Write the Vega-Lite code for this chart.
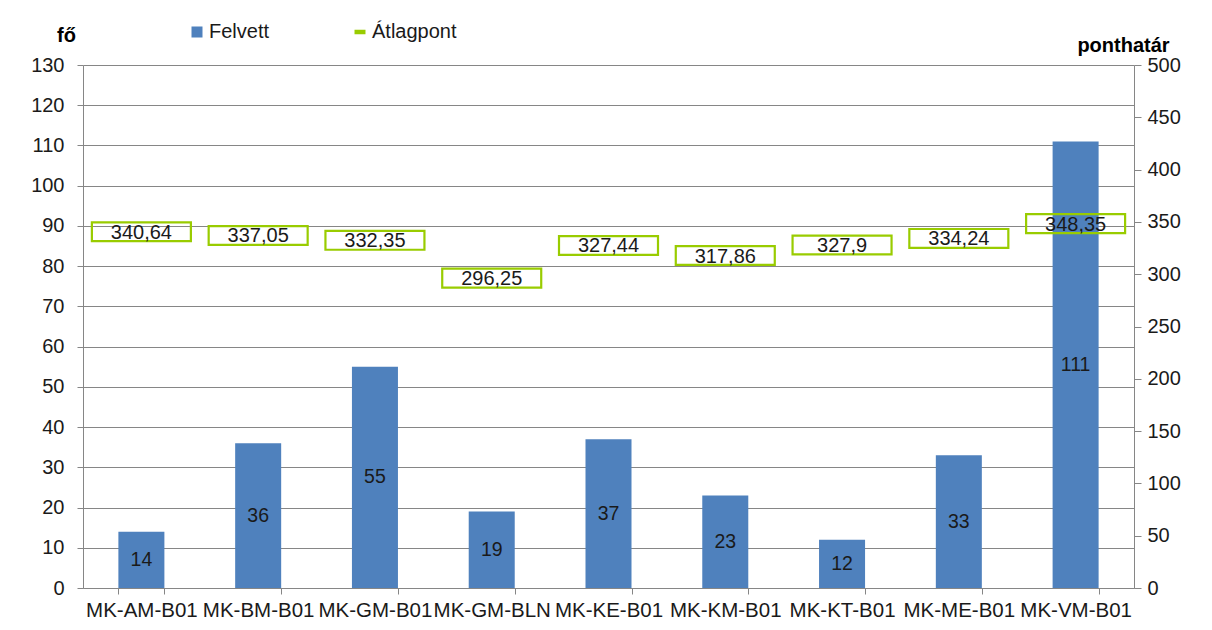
{
  "$schema": "https://vega.github.io/schema/vega-lite/v6.json",
  "width": 1051,
  "height": 523,
  "autosize": "none",
  "padding": {"left": 83, "top": 65, "right": 78, "bottom": 42},
  "background": "#ffffff",
  "data": {
    "values": [
      {"kod": "MK-AM-B01", "felvett": 14, "atlag": 340.64},
      {"kod": "MK-BM-B01", "felvett": 36, "atlag": 337.05},
      {"kod": "MK-GM-B01", "felvett": 55, "atlag": 332.35},
      {"kod": "MK-GM-BLN", "felvett": 19, "atlag": 296.25},
      {"kod": "MK-KE-B01", "felvett": 37, "atlag": 327.44},
      {"kod": "MK-KM-B01", "felvett": 23, "atlag": 317.86},
      {"kod": "MK-KT-B01", "felvett": 12, "atlag": 327.9},
      {"kod": "MK-ME-B01", "felvett": 33, "atlag": 334.24},
      {"kod": "MK-VM-B01", "felvett": 111, "atlag": 348.35}
    ]
  },
  "encoding": {
    "x": {
      "field": "kod",
      "type": "nominal",
      "sort": null,
      "scale": {"paddingInner": 0.606, "paddingOuter": 0.303},
      "axis": {
        "title": null,
        "labelAngle": 0,
        "labelOverlap": false,
        "labelLimit": 0,
        "labelFontSize": 20.5,
        "labelPadding": 6,
        "tickBand": "extent",
        "tickSize": 6,
        "grid": false
      }
    }
  },
  "layer": [
    {
      "encoding": {
        "y": {
          "field": "felvett",
          "type": "quantitative",
          "scale": {"domain": [0, 130], "nice": false},
          "axis": {
            "orient": "left",
            "values": [0, 10, 20, 30, 40, 50, 60, 70, 80, 90, 100, 110, 120, 130],
            "grid": true,
            "title": "fő",
            "titleAngle": 0,
            "titleAlign": "center",
            "titleBaseline": "middle",
            "titleX": -17,
            "titleY": -30,
            "labelPadding": 13,
            "tickSize": 6
          }
        }
      },
      "layer": [
        {
          "mark": {"type": "bar"},
          "encoding": {
            "color": {
              "datum": "Felvett",
              "scale": {"domain": ["Felvett", "Átlagpont"], "range": ["#4F81BD", "#99CC00"]},
              "legend": {
                "title": null,
                "orient": "none",
                "direction": "horizontal",
                "legendX": 104,
                "legendY": -43,
                "labelFontSize": 20,
                "labelColor": "#1a1a1a",
                "labelOffset": 2,
                "columnPadding": 80,
                "symbolSize": 90,
                "encode": {
                  "symbols": {
                    "update": {
                      "shape": {"signal": "datum.value === 'Felvett' ? 'square' : 'M-1,-0.3L1,-0.3L1,0.3L-1,0.3Z'"},
                      "fill": {"signal": "datum.value === 'Felvett' ? '#4F81BD' : '#DDF0A0'"},
                      "stroke": {"signal": "datum.value === 'Felvett' ? '#4F81BD' : '#99CC00'"},
                      "strokeWidth": {"value": 1.5},
                      "opacity": {"value": 1}
                    }
                  }
                }
              }
            }
          }
        },
        {
          "transform": [{"calculate": "datum.felvett / 2", "as": "kozep"}],
          "mark": {"type": "text", "fontSize": 19.5, "color": "#1a1a1a", "baseline": "middle"},
          "encoding": {
            "y": {"field": "kozep", "type": "quantitative"},
            "text": {"field": "felvett", "type": "quantitative"}
          }
        }
      ]
    },
    {
      "encoding": {
        "y": {
          "field": "atlag",
          "type": "quantitative",
          "scale": {"domain": [0, 500], "nice": false},
          "axis": {
            "orient": "right",
            "values": [0, 50, 100, 150, 200, 250, 300, 350, 400, 450, 500],
            "grid": false,
            "title": "ponthatár",
            "titleAngle": 0,
            "titleAlign": "center",
            "titleBaseline": "middle",
            "titleX": -11,
            "titleY": -20,
            "labelPadding": 6,
            "tickSize": 7
          }
        }
      },
      "layer": [
        {
          "mark": {
            "type": "point",
            "filled": false,
            "strokeWidth": 2.2,
            "opacity": 1,
            "shape": "M-1,-0.19L1,-0.19L1,0.19L-1,0.19Z",
            "size": 9800
          },
          "encoding": {
            "color": {"datum": "Átlagpont"}
          }
        },
        {
          "mark": {"type": "text", "fontSize": 20, "color": "#1a1a1a", "baseline": "middle", "dy": 1},
          "encoding": {
            "text": {"field": "atlag", "type": "quantitative", "format": ".2~f"}
          }
        }
      ]
    }
  ],
  "resolve": {"scale": {"y": "independent"}},
  "config": {
    "locale": {
      "number": {"decimal": ",", "thousands": " ", "grouping": [3], "currency": ["", " Ft"]}
    },
    "font": "Liberation Sans",
    "view": {"stroke": null},
    "axis": {
      "domainColor": "#868686",
      "tickColor": "#868686",
      "gridColor": "#868686",
      "gridOpacity": 1,
      "labelColor": "#1a1a1a",
      "labelFont": "Liberation Sans",
      "labelFontSize": 20,
      "titleFont": "Liberation Sans",
      "titleFontSize": 20,
      "titleFontWeight": "bold",
      "titleColor": "#000000"
    },
    "legend": {"labelFont": "Liberation Sans"}
  }
}
